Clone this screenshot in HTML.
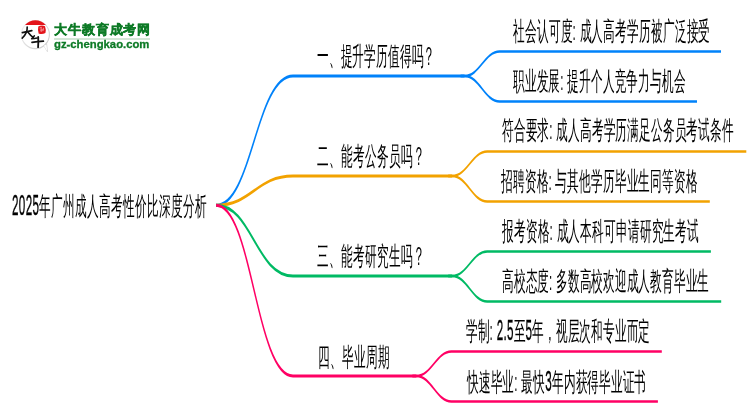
<!DOCTYPE html>
<html><head><meta charset="utf-8"><style>
html,body{margin:0;padding:0;background:#fff;width:750px;height:410px;overflow:hidden}
svg.main{position:absolute;left:0;top:0;will-change:transform}
svg.main text{font-family:"Liberation Sans", sans-serif;font-size:26.0px;fill:#000}
</style></head><body>
<svg class="main" width="750" height="410" viewBox="0 0 750 410">
<g transform="scale(0.4477,1)">
<path d="M482.69,205.2 C563.10,205.2 571.81,76.05 654.46,76.05 L1037.75,76.05" stroke="#0082fa" stroke-width="3.0" fill="none"/>
<path d="M1028.81,76.05 L1037.75,76.05 C1071.25,76.05 1082.42,51.5 1115.93,51.5 L1610.45,51.5" stroke="#0082fa" stroke-width="2.5" fill="none"/>
<path d="M1028.81,76.05 L1037.75,76.05 C1071.25,76.05 1082.42,101.5 1115.93,101.5 L1556.85,101.5" stroke="#0082fa" stroke-width="2.5" fill="none"/>
<path d="M482.69,205.2 C563.10,205.2 571.81,176.0 654.46,176.0 L1010.05,176.0" stroke="#f2a200" stroke-width="3.0" fill="none"/>
<path d="M1001.12,176.0 L1010.05,176.0 C1043.56,176.0 1054.72,151.5 1088.23,151.5 L1666.96,151.5" stroke="#f2a200" stroke-width="2.5" fill="none"/>
<path d="M1001.12,176.0 L1010.05,176.0 C1043.56,176.0 1054.72,201.5 1088.23,201.5 L1585.44,201.5" stroke="#f2a200" stroke-width="2.5" fill="none"/>
<path d="M482.69,205.2 C563.10,205.2 571.81,276.0 654.46,276.0 L1010.05,276.0" stroke="#00ba64" stroke-width="3.0" fill="none"/>
<path d="M1001.12,276.0 L1010.05,276.0 C1043.56,276.0 1054.72,251.5 1088.23,251.5 L1587.89,251.5" stroke="#00ba64" stroke-width="2.5" fill="none"/>
<path d="M1001.12,276.0 L1010.05,276.0 C1043.56,276.0 1054.72,301.5 1088.23,301.5 L1610.90,301.5" stroke="#00ba64" stroke-width="2.5" fill="none"/>
<path d="M482.69,205.2 C563.10,205.2 571.81,376.0 654.46,376.0 L930.09,376.0" stroke="#ff0064" stroke-width="3.0" fill="none"/>
<path d="M921.15,376.0 L930.09,376.0 C963.59,376.0 974.76,351.5 1008.26,351.5 L1478.22,351.5" stroke="#ff0064" stroke-width="2.5" fill="none"/>
<path d="M921.15,376.0 L930.09,376.0 C963.59,376.0 974.76,401.5 1008.26,401.5 L1469.51,401.5" stroke="#ff0064" stroke-width="2.5" fill="none"/>
<text transform="translate(26.80,214.85) scale(1,1.13)" letter-spacing="0.893" stroke="#000" stroke-width="0.35">2025</text>
<text x="88.22" y="214.85" letter-spacing="0.893">年广州成人高考性价比深度分析</text>
<text x="708.06" y="65.05" letter-spacing="0.596">一、提升学历值得吗？</text>
<text x="708.29" y="164.95" letter-spacing="0.893">二、能考公务员吗？</text>
<text x="708.29" y="265.45" letter-spacing="0.893">三、能考研究生吗？</text>
<text x="711.41" y="365.65" letter-spacing="0.938">四、毕业周期</text>
<text x="1145.86" y="39.95" letter-spacing="0.736">社会认可度: 成人高考学历被广泛接受</text>
<text x="1145.86" y="89.70" letter-spacing="0.581">职业发展: 提升个人竞争力与机会</text>
<text x="1121.29" y="139.50" letter-spacing="0.592">符合要求: 成人高考学历满足公务员考试条件</text>
<text x="1119.05" y="190.00" letter-spacing="0.670">招聘资格: 与其他学历毕业生同等资格</text>
<text x="1121.29" y="240.10" letter-spacing="0.710">报考资格: 成人本科可申请研究生考试</text>
<text x="1121.29" y="290.50" letter-spacing="0.496">高校态度: 多数高校欢迎成人教育毕业生</text>
<text x="1040.88" y="339.75" letter-spacing="0.534">学制: </text>
<text transform="translate(1109.46,339.75) scale(1,1.13)" letter-spacing="0.534" stroke="#000" stroke-width="0.35">2.5</text>
<text x="1147.20" y="339.75" letter-spacing="0.534">至</text>
<text transform="translate(1173.74,339.75) scale(1,1.13)" letter-spacing="0.534" stroke="#000" stroke-width="0.35">5</text>
<text x="1188.73" y="339.75" letter-spacing="0.534">年，视层次和专业而定</text>
<text x="1043.11" y="390.70" letter-spacing="0.530">快速毕业: 最快</text>
<text transform="translate(1217.80,390.70) scale(1,1.13)" letter-spacing="0.530" stroke="#000" stroke-width="0.35">3</text>
<text x="1232.79" y="390.70" letter-spacing="0.530">年内获得毕业证书</text>
</g>
</svg>
<div style="position:absolute;left:0;top:0;width:160px;height:60px">
 <svg width="60" height="60" viewBox="0 0 60 60" style="position:absolute;left:0;top:0">
  <defs><linearGradient id="lg" x1="0" y1="0" x2="1" y2="1"><stop offset="0" stop-color="#f4f4f4"/><stop offset="1" stop-color="#c8c8c8"/></linearGradient></defs>
  <path d="M43.8,45.6 L47.4,51.6 L46.6,44 Z" fill="#fff" stroke="#cfcfcf" stroke-width="0.8"/>
  <circle cx="35.4" cy="34.6" r="14" fill="#fff" stroke="url(#lg)" stroke-width="1.1"/>
  <path d="M43.9,45.8 L47.3,51.4 L46.2,44.4" fill="#fff" stroke="none"/>
  <path d="M25,24.9 A14,14 0 0 1 45.8,24.9 Z" fill="#e4141b"/>
  <path d="M38.3,26.6 Q41.5,24.8 45,26.2 Q46.3,29.5 45.4,33 Q42,34.6 38.6,33.4 Q37.6,30 38.3,26.6 Z" fill="#e4141b"/>
  <path d="M39.6,28 l2,-0.6 M40.2,30.2 l3.4,-0.4 M41.2,27.4 l0,4.6 M43.5,27.8 l-0.6,3.4" stroke="#f7b9b9" stroke-width="0.7" fill="none"/>
  <path d="M22.4,32.6 Q27,31.4 31.8,30.6" stroke="#111" stroke-width="1.7" fill="none" stroke-linecap="round"/>
  <path d="M27.2,27 Q27.6,33 22.2,38.2" stroke="#111" stroke-width="1.6" fill="none" stroke-linecap="round"/>
  <path d="M27.8,32 Q30.5,35.5 33.2,37.4" stroke="#111" stroke-width="1.6" fill="none" stroke-linecap="round"/>
  <path d="M34.4,35.8 Q33,37.6 31.6,38.8 Q34.5,38.4 37.2,38" stroke="#111" stroke-width="1.4" fill="none" stroke-linecap="round" stroke-linejoin="round"/>
  <path d="M32,42.4 Q37.6,41.4 43.4,41.2" stroke="#111" stroke-width="1.7" fill="none" stroke-linecap="round"/>
  <path d="M38.2,37 Q38.5,42 38.1,47.2" stroke="#111" stroke-width="1.8" fill="none" stroke-linecap="round"/>
 </svg>
 <div style="position:absolute;left:54px;top:20.9px;font-family:'Liberation Sans',sans-serif;font-size:12.7px;font-weight:900;letter-spacing:0.9px;color:#0d7a26;-webkit-text-stroke:0.45px #0d7a26;white-space:nowrap;line-height:18px">大牛教育成考网</div>
 <div style="position:absolute;left:54px;top:38px;width:96px;height:1.5px;background:#d3e6d6"></div>
 <div style="position:absolute;left:54px;top:38.2px;font-family:'Liberation Sans',sans-serif;font-size:11.3px;font-weight:bold;color:#0d7a26;-webkit-text-stroke:0.3px #0d7a26;white-space:nowrap;line-height:13px">gz-chengkao.com</div>
</div>

</body></html>
